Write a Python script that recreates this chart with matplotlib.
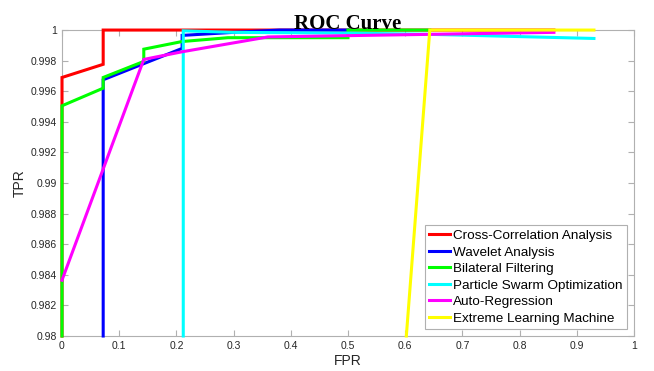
import numpy as np
import matplotlib.pyplot as plt

# ROC points (FPR, TPR)
cc_fpr = [0.0, 0.0, 0.072, 0.072, 0.86]
cc_tpr = [0.98, 0.99690, 0.99776, 1.0, 1.0]

wa_fpr = [0.072, 0.072, 0.21, 0.21, 0.30, 0.38, 0.50]
wa_tpr = [0.98, 0.99675, 0.99880, 0.99965, 0.99985, 1.0, 1.0]

bf_fpr = [0.0, 0.0, 0.072, 0.072, 0.143, 0.143, 0.21, 0.29, 0.50, 0.50, 0.643]
bf_tpr = [0.98, 0.99505, 0.99620, 0.99690, 0.99795, 0.99875, 0.99925, 0.99950, 0.99950, 1.0, 1.0]

pso_fpr = [0.212, 0.212, 0.30, 0.50, 0.643, 0.93]
pso_tpr = [0.98, 0.99995, 0.99985, 0.99980, 0.99972, 0.99945]

ar_fpr = [0.0, 0.143, 0.21, 0.36, 0.86]
ar_tpr = [0.98365, 0.99808, 0.99858, 0.99955, 0.99985]

elm_fpr = [0.602, 0.643, 0.93]
elm_tpr = [0.98, 1.0, 1.0]

names = ['Cross-Correlation Analysis', 'Wavelet Analysis', 'Bilateral Filtering',
         'Particle Swarm Optimization', 'Auto-Regression', 'Extreme Learning Machine']
colors = ['#ff0000', '#0000ff', '#00ff00', '#00ffff', '#ff00ff', '#ffff00']

plt.rcParams['font.family'] = ['Liberation Sans', 'DejaVu Sans']

fig = plt.figure(figsize=(6.54, 3.71), dpi=100)
ax = fig.add_axes([0.0948, 0.0943, 0.8746, 0.8247])

curves = [(cc_fpr, cc_tpr), (wa_fpr, wa_tpr), (bf_fpr, bf_tpr),
          (pso_fpr, pso_tpr), (ar_fpr, ar_tpr), (elm_fpr, elm_tpr)]
for (x, y), name, c in zip(curves, names, colors):
    ax.plot(x, y, color=c, lw=2.2, label=name, clip_on=False,
            solid_joinstyle='miter', zorder=3)

ax.set_xlim(0, 1)
ax.set_ylim(0.98, 1.0)
ax.set_xticks(np.arange(0, 1.01, 0.1))
ax.set_xticklabels(['0', '0.1', '0.2', '0.3', '0.4', '0.5', '0.6', '0.7', '0.8', '0.9', '1'])
ax.set_yticks(np.arange(0.98, 1.0001, 0.002))
ax.set_yticklabels(['0.98', '0.982', '0.984', '0.986', '0.988', '0.99', '0.992',
                    '0.994', '0.996', '0.998', '1'])
ax.tick_params(direction='in', top=True, right=True, length=4, width=0.8,
               colors='#b0b0b0', labelcolor='#262626', labelsize=7.5)
for s in ax.spines.values():
    s.set_color('#b0b0b0')
    s.set_linewidth(0.8)

ax.set_xlabel('FPR', fontsize=10, color='#262626', labelpad=2)
ax.set_ylabel('TPR', fontsize=10, color='#262626', labelpad=3)
ax.set_title('ROC Curve', fontsize=15, fontweight='bold', family='Liberation Serif', pad=1)

leg = ax.legend(loc='lower right', fontsize=9.7, frameon=True, fancybox=False,
                edgecolor='#b0b0b0', framealpha=1, handlelength=1.5, handletextpad=0.25,
                borderpad=0.35, labelspacing=0.3, borderaxespad=0.5)
leg.get_frame().set_linewidth(0.8)
leg.set_zorder(5)

fig.savefig('out.png', dpi=100)
